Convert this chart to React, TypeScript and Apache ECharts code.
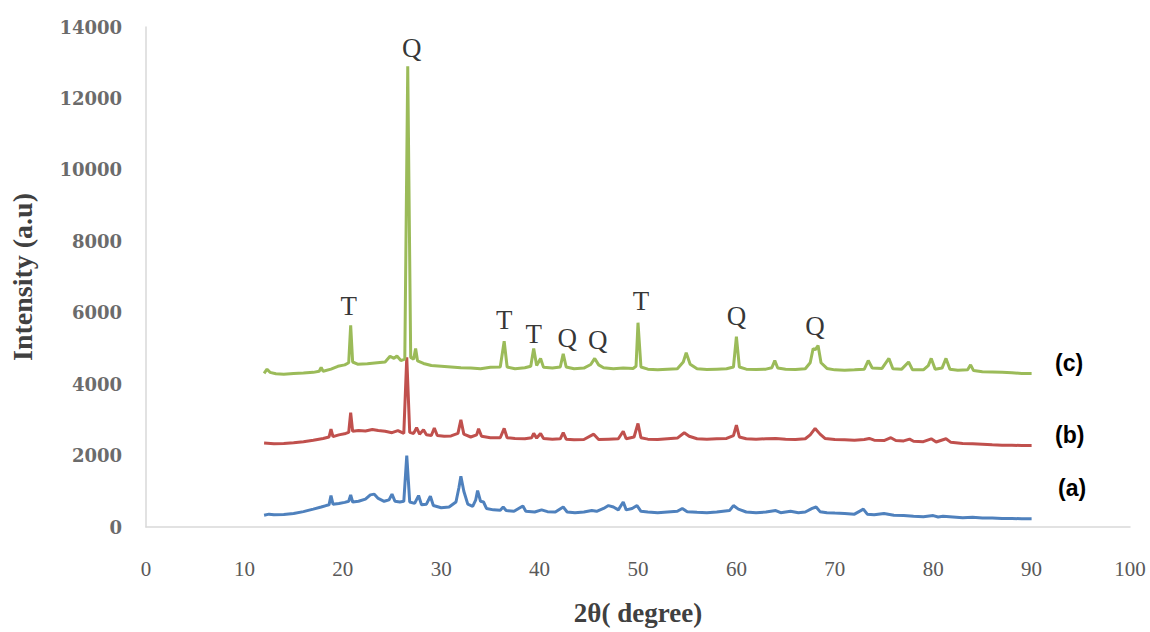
import React, { useEffect, useRef } from "react";
import * as echarts from "echarts";

const xTicks = [0, 10, 20, 30, 40, 50, 60, 70, 80, 90, 100];
const yTicks = [0, 2000, 4000, 6000, 8000, 10000, 12000, 14000];

const seriesA: number[][] = [
  [12.0, 330], [12.5, 360], [13, 340], [14, 350], [15, 380], [16, 430], [17, 500], [17.8, 560], [18.3, 600], [18.6, 620],
  [18.8, 880], [19.0, 640], [19.6, 660], [20.2, 690], [20.6, 720], [20.8, 900], [21.0, 700], [21.6, 720], [22.3, 780],
  [22.8, 900], [23.2, 920], [23.6, 800], [24.2, 720], [24.7, 760], [25.0, 920], [25.3, 720], [25.8, 700], [26.2, 720],
  [26.5, 2000], [26.8, 700], [27.3, 660], [27.7, 880], [28.0, 620], [28.5, 640], [28.9, 860], [29.2, 600], [30, 540],
  [30.8, 560], [31.5, 700], [31.8, 1100], [32.0, 1420], [32.3, 1000], [32.7, 640], [33.2, 580], [33.5, 750], [33.7, 1020],
  [34.0, 720], [34.3, 700], [34.6, 520], [35.3, 480], [36.0, 470], [36.3, 560], [36.6, 460], [37.4, 440], [38.3, 590],
  [38.6, 440], [39.5, 420], [40.2, 480], [40.8, 430], [41.6, 420], [42.4, 560], [42.8, 420], [43.6, 400], [44.5, 420],
  [45.3, 460], [45.8, 440], [46.5, 520], [47.0, 600], [47.5, 560], [48.0, 480], [48.5, 700], [48.8, 480], [49.4, 520],
  [49.9, 600], [50.3, 440], [51, 420], [52, 400], [53, 420], [54, 440], [54.5, 520], [55, 430], [56, 410], [57, 400],
  [58, 420], [59.3, 460], [59.7, 600], [60.2, 500], [61, 420], [62, 400], [63, 420], [64, 460], [64.5, 400], [65.5, 440],
  [66.3, 400], [67, 420], [67.7, 520], [68.1, 560], [68.5, 430], [69.2, 400], [70, 390], [71, 380], [72, 360], [72.9, 500],
  [73.3, 360], [74, 340], [75, 380], [76, 330], [77, 320], [78, 300], [79, 290], [80, 320], [80.5, 280], [81, 300],
  [82, 280], [83, 260], [84, 270], [85, 250], [86, 250], [87, 240], [88, 240], [89, 230], [90, 230],
];

const seriesB: number[][] = [
  [12.0, 2350], [13, 2330], [14, 2340], [15, 2360], [16, 2390], [17, 2430], [18, 2480], [18.6, 2520], [18.8, 2740],
  [19.0, 2530], [19.6, 2580], [20.3, 2620], [20.6, 2650], [20.8, 3200], [21.0, 2680], [21.6, 2700], [22.3, 2690],
  [23, 2730], [23.6, 2700], [24.3, 2680], [25, 2640], [25.6, 2700], [26.2, 2620], [26.5, 4750], [26.8, 2650],
  [27.2, 2620], [27.5, 2780], [27.8, 2600], [28.2, 2720], [28.5, 2580], [29.0, 2560], [29.3, 2770], [29.6, 2560],
  [30.3, 2540], [31, 2550], [31.7, 2620], [32.0, 3000], [32.3, 2600], [33, 2520], [33.6, 2580], [33.8, 2750],
  [34.1, 2540], [35, 2500], [36.0, 2500], [36.4, 2760], [36.7, 2500], [37.5, 2480], [38.5, 2470], [39.2, 2500],
  [39.4, 2620], [39.7, 2490], [40.1, 2620], [40.4, 2480], [41.3, 2460], [42.1, 2470], [42.4, 2640], [42.7, 2460],
  [43.5, 2440], [44.5, 2450], [45.5, 2600], [46, 2450], [47, 2460], [48, 2470], [48.5, 2680], [48.8, 2470],
  [49.6, 2520], [50.0, 2900], [50.3, 2500], [51, 2460], [52, 2450], [53, 2470], [54, 2490], [54.7, 2640],
  [55.2, 2540], [56, 2470], [57, 2460], [58, 2470], [59, 2480], [59.7, 2560], [60.0, 2850], [60.3, 2520], [61, 2470],
  [62, 2460], [63, 2470], [64, 2480], [65, 2460], [66, 2450], [67, 2470], [67.5, 2580], [68.0, 2760], [68.5, 2600],
  [69, 2480], [70, 2450], [71, 2440], [72, 2430], [73, 2450], [73.5, 2480], [74, 2430], [75, 2420], [75.7, 2500],
  [76.2, 2420], [77, 2410], [77.6, 2460], [78, 2400], [79, 2390], [79.8, 2470], [80.3, 2380], [81.3, 2470],
  [81.8, 2370], [83, 2340], [84, 2330], [85, 2320], [86, 2300], [87, 2290], [88, 2290], [89, 2280], [90, 2280],
];

const seriesC: number[][] = [
  [12.0, 4300], [12.3, 4420], [12.6, 4330], [13.2, 4290], [14, 4280], [15, 4300], [16, 4310], [17, 4330], [17.6, 4360],
  [17.8, 4470], [18.0, 4360], [18.8, 4420], [19.5, 4500], [20.2, 4540], [20.6, 4600], [20.8, 5650], [21.0, 4620],
  [21.5, 4560], [22.5, 4570], [23.5, 4600], [24.3, 4620], [24.8, 4780], [25.2, 4720], [25.5, 4790], [25.9, 4660],
  [26.3, 4700], [26.6, 12900], [26.9, 4750], [27.2, 4700], [27.4, 5000], [27.6, 4650], [28.2, 4580], [29, 4520],
  [30, 4500], [31, 4480], [32, 4460], [33, 4450], [34, 4430], [35, 4470], [36.0, 4480], [36.4, 5200], [36.7, 4480],
  [37.5, 4430], [38.5, 4460], [39.1, 4500], [39.4, 5000], [39.7, 4520], [40.1, 4720], [40.4, 4470], [41.3, 4450],
  [42.1, 4480], [42.4, 4850], [42.7, 4480], [43.5, 4430], [44.5, 4450], [45.2, 4550], [45.6, 4720], [46.0, 4540],
  [46.5, 4460], [47.5, 4430], [48.5, 4450], [49.5, 4440], [49.8, 4500], [50.0, 5720], [50.3, 4480], [51, 4420],
  [52, 4400], [53, 4420], [54, 4430], [54.6, 4620], [54.9, 4880], [55.3, 4560], [56, 4430], [57, 4410], [58, 4420],
  [59, 4430], [59.7, 4480], [60.0, 5330], [60.3, 4480], [61, 4420], [62, 4410], [63, 4420], [63.6, 4460], [63.9, 4660],
  [64.2, 4450], [65, 4420], [66, 4410], [67, 4430], [67.5, 4600], [67.8, 5000], [68.0, 4960], [68.3, 5080], [68.6, 4600],
  [69.2, 4440], [70, 4400], [71, 4390], [72, 4400], [73, 4420], [73.4, 4660], [73.8, 4450], [74.8, 4440], [75.5, 4720],
  [75.9, 4430], [76.8, 4420], [77.5, 4620], [77.9, 4400], [79, 4400], [79.5, 4520], [79.8, 4720], [80.2, 4420],
  [80.9, 4450], [81.3, 4720], [81.7, 4420], [82.5, 4390], [83.5, 4400], [83.8, 4540], [84.1, 4380], [85, 4350],
  [86, 4340], [87, 4330], [88, 4320], [89, 4300], [90, 4300],
];

const annotText = ["T", "Q", "T", "T", "Q", "Q", "T", "Q", "Q"];
const annotX = [20.6, 27.0, 36.4, 39.4, 42.8, 45.9, 50.3, 60.0, 68.0];
const annotY = [6190, 13410, 5800, 5400, 5290, 5240, 6330, 5910, 5630];

const seriesNames = ["(a)", "(b)", "(c)"];
const seriesColors = ["#4F81BD", "#C0504D", "#9BBB59"];

export default function App() {
  const ref = useRef<HTMLDivElement>(null);
  useEffect(() => {
    if (!ref.current) return;
    const chart = echarts.init(ref.current, undefined, { renderer: "svg" });
    const lineSeries = [seriesA, seriesB, seriesC].map((d, i) => ({
      name: seriesNames[i],
      type: "line",
      data: d,
      showSymbol: false,
      symbol: "none",
      lineStyle: { color: seriesColors[i], width: 3 },
      itemStyle: { color: seriesColors[i] },
      silent: true,
      z: 2 + i,
    }));
    chart.setOption({
      animation: false,
      backgroundColor: "#ffffff",
      grid: { left: 146, right: 20, top: 27, bottom: 105, containLabel: false },
      xAxis: {
        type: "value",
        min: xTicks[0],
        max: xTicks[xTicks.length - 1],
        interval: 10,
        name: "2θ( degree)",
        nameLocation: "middle",
        nameGap: 72,
        nameTextStyle: { fontFamily: "Liberation Serif", fontWeight: "bold", fontSize: 27, color: "#404040" },
        axisLine: { show: true, lineStyle: { color: "#D9D9D9", width: 1.5 } },
        axisTick: { show: false },
        splitLine: { show: false },
        axisLabel: { margin: 31, fontFamily: "Liberation Serif", fontSize: 21, color: "#595959" },
      },
      yAxis: {
        type: "value",
        min: yTicks[0],
        max: yTicks[yTicks.length - 1],
        interval: 2000,
        name: "Intensity (a.u)",
        nameLocation: "middle",
        nameGap: 110,
        nameRotate: 90,
        nameTextStyle: { fontFamily: "Liberation Serif", fontWeight: "bold", fontSize: 28, color: "#404040" },
        axisLine: { show: true, lineStyle: { color: "#D9D9D9", width: 1.5 } },
        axisTick: { show: false },
        splitLine: { show: false },
        axisLabel: {
          margin: 24,
          fontFamily: "DejaVu Serif",
          fontWeight: "bold",
          fontSize: 18,
          color: "#6b6b6b",
          formatter: (v: number) => String(v),
        },
      },
      series: [
        ...lineSeries,
        {
          type: "scatter",
          silent: true,
          symbol: "circle",
          symbolSize: 1,
          itemStyle: { color: "rgba(0,0,0,0)" },
          data: annotX.map((x, i) => [x, annotY[i], annotText[i]]),
          label: {
            show: true,
            position: "inside",
            formatter: (p: any) => p.value[2],
            fontFamily: "Liberation Serif",
            fontSize: 27,
            color: "#000000",
          },
          z: 10,
        },
      ],
      graphic: [
        { type: "text", left: 1055, top: 351, style: { text: seriesNames[2], font: "bold 23px 'Liberation Sans'", fill: "#000" } },
        { type: "text", left: 1055, top: 423, style: { text: seriesNames[1], font: "bold 23px 'Liberation Sans'", fill: "#000" } },
        { type: "text", left: 1058, top: 476, style: { text: seriesNames[0], font: "bold 23px 'Liberation Sans'", fill: "#000" } },
      ],
    });
    return () => chart.dispose();
  }, []);
  return (
    <div
      ref={ref}
      style={{ position: "fixed", left: 0, top: 0, width: 1150, height: 632, background: "#fff" }}
    />
  );
}
